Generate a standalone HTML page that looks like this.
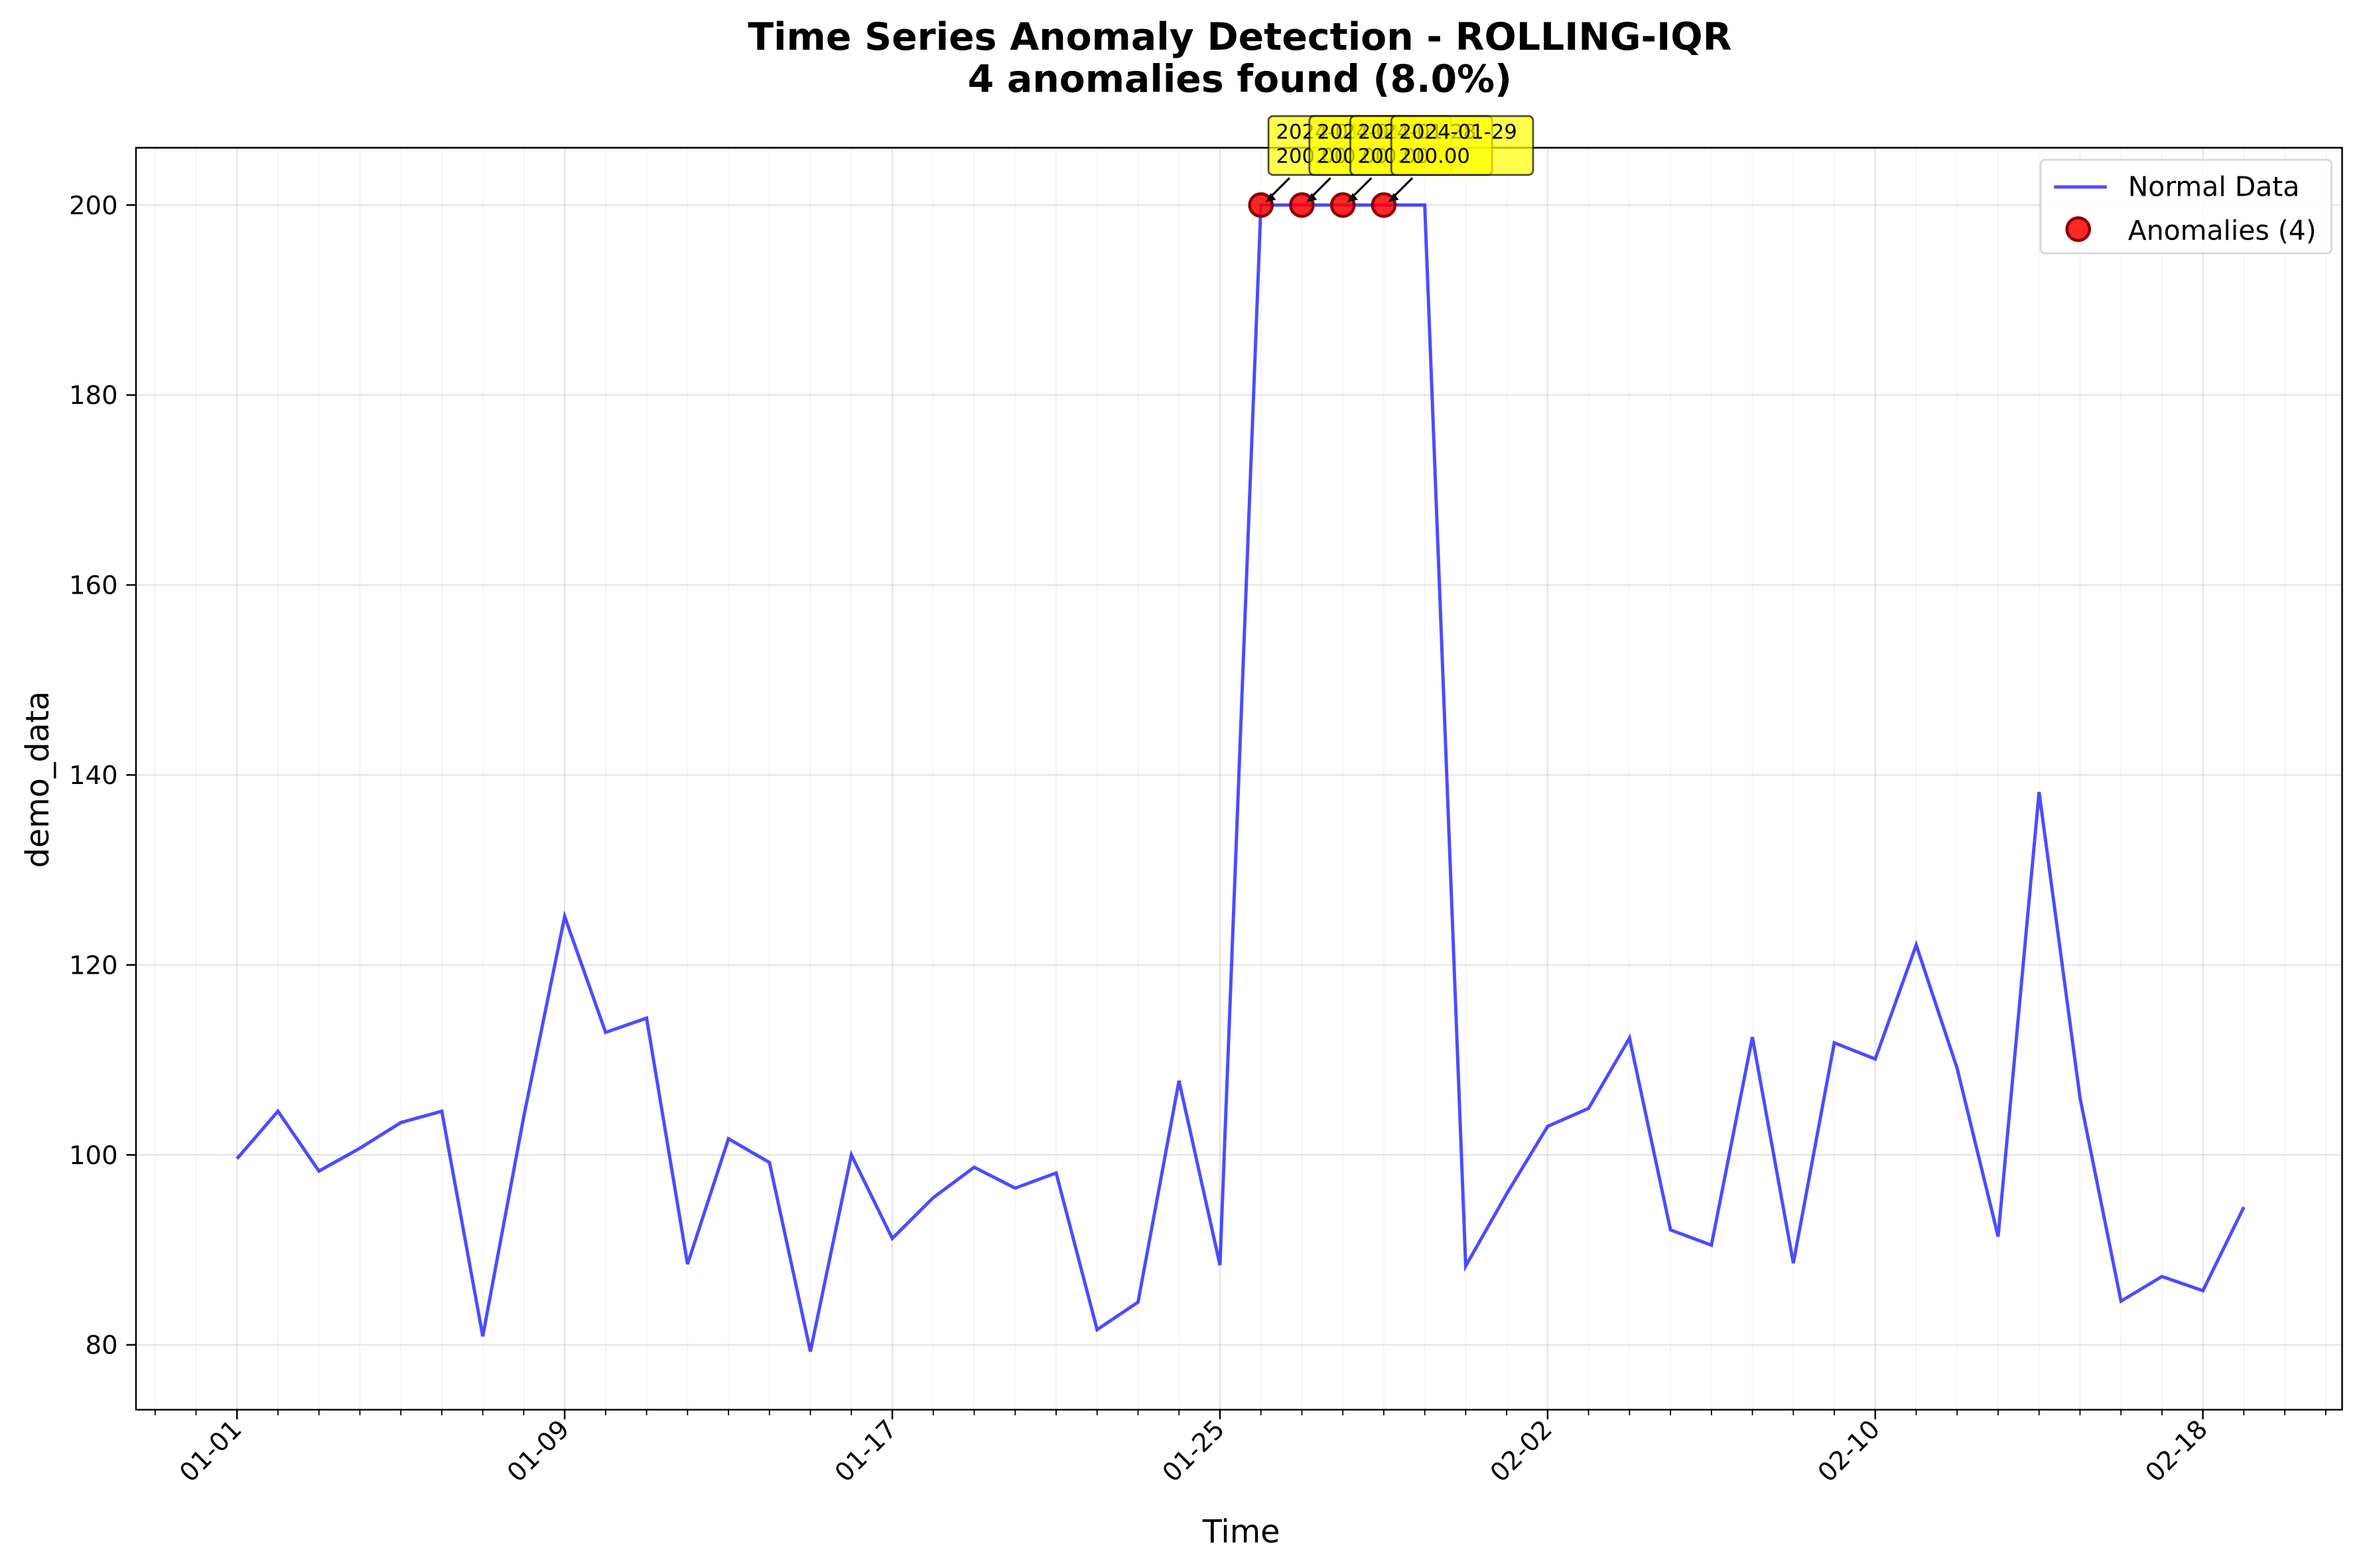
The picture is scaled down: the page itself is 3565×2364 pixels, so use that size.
<!DOCTYPE html>
<html><head><meta charset="utf-8"><style>
html,body{margin:0;padding:0;background:#fff;}
svg{display:block;font-family:"DejaVu Sans","Liberation Sans",sans-serif;}
</style></head><body>
<svg id="chart" width="3565" height="2364" viewBox="0 0 1568 1040" xmlns="http://www.w3.org/2000/svg">
<rect width="1568" height="1040" fill="#fff"/>
<text x="822" y="33" text-anchor="middle" font-size="25" font-weight="bold">Time Series Anomaly Detection - ROLLING-IQR</text>
<text x="822" y="61" text-anchor="middle" font-size="25" font-weight="bold">4 anomalies found (8.0%)</text>
<g id="grid"></g>
<g id="axes"></g>
<g id="marks"></g>
<g id="ann"></g>
<text transform="translate(32,517) rotate(-90)" text-anchor="middle" font-size="21">demo_data</text>
<text x="823" y="1023" text-anchor="middle" font-size="21">Time</text>
<g>
<rect x="1353" y="106" width="193" height="62" rx="3" fill="#fff" fill-opacity="0.8" stroke="#d6d6d6" stroke-width="1.2"/>
<line x1="1362" y1="124" x2="1397" y2="124" stroke="#0000ff" stroke-opacity="0.7" stroke-width="2.2"/>
<text x="1411" y="130" font-size="18">Normal Data</text>
<circle cx="1378" cy="152" r="7.5" fill="#ff0000" fill-opacity="0.85" stroke="#8b0000" stroke-width="2"/>
<text x="1411" y="159" font-size="18">Anomalies (4)</text>
</g>
</svg>
<script>
const dayLabels=["01-01","01-09","01-17","01-25","02-02","02-10","02-18"];
const labelDays=[0,8,16,24,32,40,48];
const yTicks=[80,100,120,140,160,180,200];
const values=[99.6,104.6,98.3,100.7,103.4,104.6,80.9,104,125.1,112.9,114.4,88.5,101.7,99.2,79.3,100.0,91.2,95.5,98.7,96.5,98.1,81.6,84.5,107.8,88.4,200,200,200,200,200,88.3,95.9,103.0,104.9,112.3,92.1,90.5,112.4,88.6,111.8,110.1,122.1,109.1,91.4,138.2,106.0,84.6,87.2,85.7,94.5];
const anomalyDays=[25,26,27,28];
const anomalyLabels=["2024-01-26","2024-01-27","2024-01-28","2024-01-29"];

const L=90,R=1553,T=98,B=935;
const x=d=>157+d*27.16;
const y=v=>136+(200-v)*6.3;
const NS="http://www.w3.org/2000/svg";
function mk(parent,tag,attrs){const e=document.createElementNS(NS,tag);for(const k in attrs)e.setAttribute(k,attrs[k]);document.getElementById(parent).appendChild(e);return e;}
for(let d=-2;d<=51;d++){const px=x(d);if(px<L||px>R)continue;
 const maj=labelDays.includes(d);
 const g=mk('grid','line',{x1:px,y1:T,x2:px,y2:B,stroke:'#000','stroke-opacity':maj?0.1:0.05,'stroke-width':maj?1:0.7});
 
 
 const t=mk('axes','line',{x1:px,y1:B,x2:px,y2:B+(maj?6.4:3.7),stroke:'#000','stroke-width':maj?1.1:0.8});
 
 
}
yTicks.forEach(v=>{const py=y(v);
 const g=mk('grid','line',{x1:L,y1:py,x2:R,y2:py,stroke:'#000','stroke-opacity':0.1,'stroke-width':1});
 
 
 const t=mk('axes','line',{x1:L-6.4,y1:py,x2:L,y2:py,stroke:'#000','stroke-width':1.1});
 
 
 const l=mk('axes','text',{x:L-12,y:py+6,'text-anchor':'end','font-size':17});l.textContent=v;
 
 
});
labelDays.forEach((d,i)=>{const px=x(d);
 const l=mk('axes','text',{x:px+4,y:B+14,'text-anchor':'end','font-size':17,transform:`rotate(-45 ${px+4} ${B+14})`});l.textContent=dayLabels[i];
 
 
});
const fr=mk('axes','rect',{x:L,y:T,width:R-L,height:B-T,fill:'none',stroke:'#000','stroke-width':1.1});


const pl=mk('marks','polyline',{points:values.map((v,i)=>x(i)+','+y(v)).join(' '),fill:'none',stroke:'#0000ff','stroke-opacity':0.7,'stroke-width':2.2});


anomalyDays.forEach(d=>{
 const c=mk('marks','circle',{cx:x(d),cy:y(values[d]),r:7.5,fill:'#ff0000','fill-opacity':0.85,stroke:'#8b0000','stroke-width':2});
 
 
});
anomalyDays.forEach((d,i)=>{const px=x(d),py=y(values[d]);
 const a=mk('ann','line',{x1:px+19,y1:118,x2:px+5,y2:py-4,stroke:'#000','stroke-width':1.4});
 
 
 const h=mk('ann','path',{d:`M${px+3},${py-2} l7,-1.5 l-3.5,-4.5 z`,fill:'#000'});
 
 
 const b=mk('ann','rect',{x:px+5,y:77,width:94,height:39,rx:3,fill:'#ffff00','fill-opacity':0.7,stroke:'#000','stroke-opacity':0.7,'stroke-width':1.2});
 
 
 const t1=mk('ann','text',{x:px+10,y:92,'font-size':13.5});t1.textContent=anomalyLabels[i];
 
 
 const t2=mk('ann','text',{x:px+10,y:108,'font-size':13.5});t2.textContent=values[d].toFixed(2);
 
 
});
</script>
</body></html>
